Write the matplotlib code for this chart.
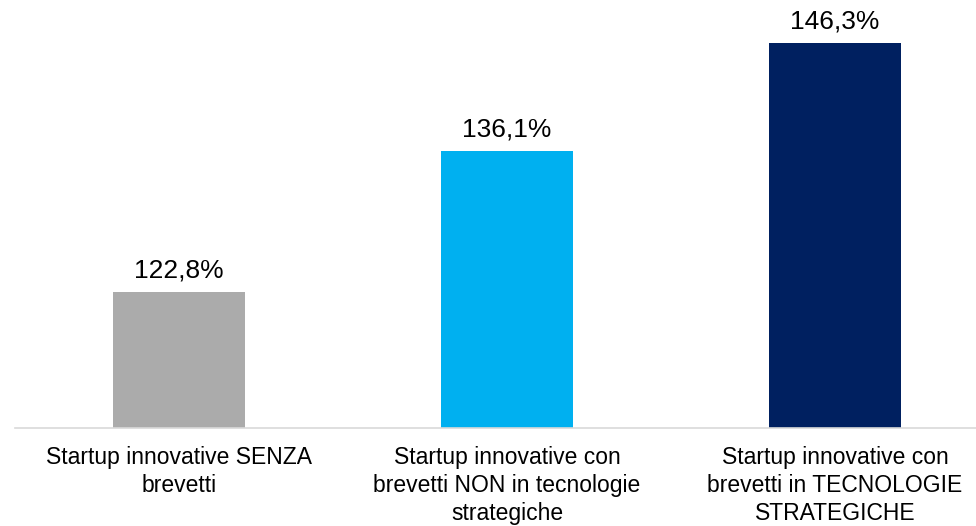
import matplotlib.pyplot as plt

# Data
categories = ["Startup innovative SENZA\nbrevetti",
              "Startup innovative con\nbrevetti NON in tecnologie\nstrategiche",
              "Startup innovative con\nbrevetti in TECNOLOGIE\nSTRATEGICHE"]
values = [122.8, 136.1, 146.3]
colors = ["#ABABAB", "#00B0F0", "#002060"]

plt.rcParams['font.family'] = ['Liberation Sans', 'DejaVu Sans']

fig = plt.figure(figsize=(9.76, 5.26), dpi=100)
ax = fig.add_axes([15 / 976, 1 - 428 / 526, 984 / 976, 424 / 526])

x = range(len(values))
bars = ax.bar(x, values, width=0.4, color=colors, zorder=2)

ax.set_xlim(-0.5, 2.5)
ax.set_ylim(110, 150)

for b, v in zip(bars, values):
    ax.annotate(f"{v:.1f}%".replace(".", ","),
                (b.get_x() + b.get_width() / 2, v),
                xytext=(0, 7), textcoords="offset points",
                ha="center", va="bottom", fontsize=19, color="black")

ax.set_xticks(list(x))
ax.set_xticklabels(categories, fontsize=16.5, linespacing=1.28)
ax.tick_params(axis="x", length=0, pad=13)
ax.set_yticks([])

for s in ["top", "right", "left"]:
    ax.spines[s].set_visible(False)
ax.spines["bottom"].set_color("#D9D9D9")
ax.spines["bottom"].set_linewidth(1.2)

fig.savefig("out.png", dpi=100)
